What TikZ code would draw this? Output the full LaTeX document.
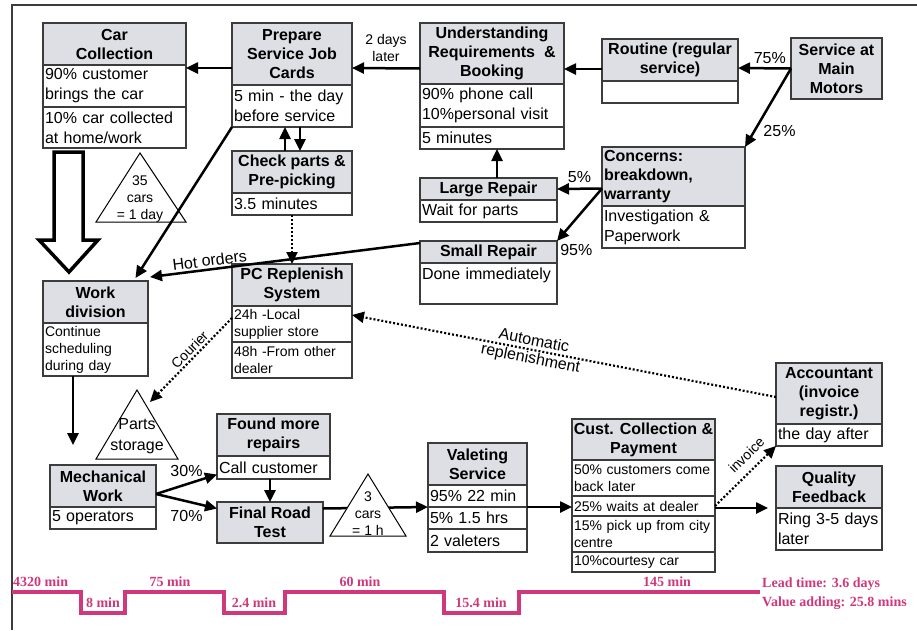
\documentclass[tikz,border=0pt]{standalone}
\usepackage{fontspec}
\setmainfont{Liberation Sans}
\newfontfamily\tlfont{Liberation Serif}
\usetikzlibrary{arrows.meta}
\definecolor{hdrgray}{RGB}{221,223,228}
\definecolor{boxline}{RGB}{60,60,60}
\definecolor{tlpink}{RGB}{208,56,124}
\tikzset{
  hdr/.style={draw=boxline, line width=1.2pt, fill=hdrgray, anchor=north west, inner sep=0pt, outer sep=0pt, align=center, font=\bfseries\fontsize{16}{19}\selectfont},
  row/.style={draw=boxline, line width=1.2pt, fill=white, anchor=north west, text width=#1, inner xsep=2pt, inner ysep=0pt, outer sep=0pt, align=left, font=\fontsize{16}{20}\selectfont},
  rowsm/.style={row=#1, font=\fontsize{14}{17}\selectfont},
  flow/.style={line width=2.5pt, ->},
  info/.style={line width=2.2pt, dash pattern=on 2pt off 2pt, ->},
  push/.style={line width=3.5pt, fill=white, line join=miter},
  lbl/.style={font=\fontsize{16}{19}\selectfont, inner sep=2pt},
  lblsm/.style={font=\fontsize{14}{17}\selectfont, inner sep=2pt, align=center},
  inv/.style={draw=black, line width=1pt, fill=white},
  tl/.style={font=\tlfont\bfseries\fontsize{14}{16}\selectfont, text=tlpink, inner sep=0pt}
}
\begin{document}
\begin{tikzpicture}[x=1pt,y=1pt,>={Triangle[length=12pt,width=11pt]}]
  \useasboundingbox (0,0) rectangle (917,-630);
  \draw[boxline, line width=1.5pt] (12,-630) -- (12,-5) -- (917,-5);
  % boxes
  \node[hdr, minimum width=143pt, minimum height=42pt] (carhd) at (43,-23) {Car\\Collection};
  \node[row=139pt, minimum height=42pt] (car1) at (carhd.south west) {90\% customer\\brings the car};
  \node[row=139pt, minimum height=41pt] (car2) at (car1.south west) {10\% car collected\\at home/work};
  \node[hdr, minimum width=120pt, minimum height=62pt] (prephd) at (232,-23) {Prepare\\Service Job\\Cards};
  \node[row=116pt, minimum height=42pt] (prep1) at (prephd.south west) {5 min - the day\\before service};
  \node[hdr, minimum width=120pt, minimum height=42pt] (chkhd) at (232,-151) {Check parts \&\\Pre-picking};
  \node[row=116pt, minimum height=22pt] (chk1) at (chkhd.south west) {3.5 minutes};
  \node[hdr, minimum width=144pt, minimum height=61pt] (undhd) at (420,-23) {Understanding\\Requirements~ \&\\Booking};
  \node[row=140pt, minimum height=43pt] (und1) at (undhd.south west) {90\% phone call\\10\%personal visit};
  \node[row=140pt, minimum height=22pt] (und2) at (und1.south west) {5 minutes};
  \node[hdr, minimum width=136pt, minimum height=42pt] (rouhd) at (602,-39) {Routine (regular\\service)};
  \node[row=132pt, minimum height=22pt] (rou1) at (rouhd.south west) {};
  \node[hdr, minimum width=91pt, minimum height=61pt] (smm) at (791,-38) {Service at\\Main\\Motors};
  \node[hdr, align=left, text width=139pt, inner xsep=2pt, minimum height=59pt] (conhd) at (602,-147) {Concerns:\\breakdown,\\warranty};
  \node[row=139pt, minimum height=42pt] (con1) at (conhd.south west) {Investigation \&\\Paperwork};
  \node[hdr, minimum width=137pt, minimum height=22pt] (lrhd) at (420,-178) {Large Repair};
  \node[row=133pt, minimum height=22pt] (lr1) at (lrhd.south west) {Wait for parts};
  \node[hdr, minimum width=137pt, minimum height=22pt] (srhd) at (420,-241) {Small Repair};
  \node[row=133pt, minimum height=41pt] (sr1) at (srhd.south west) {Done immediately\\~};
  \node[hdr, minimum width=105pt, minimum height=42pt] (wdhd) at (43,-281) {Work\\division};
  \node[rowsm=101pt, minimum height=53pt] (wd1) at (wdhd.south west) {Continue\\scheduling\\during day};
  \node[hdr, minimum width=120pt, minimum height=42pt] (pchd) at (232,-264) {PC Replenish\\System};
  \node[rowsm=116pt, minimum height=36pt] (pc1) at (pchd.south west) {24h -Local\\supplier store};
  \node[rowsm=116pt, minimum height=36pt] (pc2) at (pc1.south west) {48h -From other\\dealer};
  \node[hdr, minimum width=113pt, minimum height=42pt] (fmhd) at (217,-414) {Found more\\repairs};
  \node[row=109pt, minimum height=23pt] (fm1) at (fmhd.south west) {Call customer};
  \node[hdr, minimum width=106pt, minimum height=42pt] (mwhd) at (50,-465) {Mechanical\\Work};
  \node[row=102pt, minimum height=22pt] (mw1) at (mwhd.south west) {5 operators};
  \node[hdr, minimum width=106pt, minimum height=41pt] (frt) at (217,-502) {Final Road\\Test};
  \node[hdr, minimum width=99pt, minimum height=42pt] (valhd) at (428,-443) {Valeting\\Service};
  \node[row=95pt, minimum height=22pt] (val1) at (valhd.south west) {95\% 22 min};
  \node[row=95pt, minimum height=22pt] (val2) at (val1.south west) {5\% 1.5 hrs};
  \node[row=95pt, minimum height=23pt] (val3) at (val2.south west) {2 valeters};
  \node[hdr, minimum width=143pt, minimum height=41pt] (cchd) at (572,-419) {Cust. Collection \&\\Payment};
  \node[rowsm=139pt, minimum height=36pt] (cc1) at (cchd.south west) {50\% customers come\\back later};
  \node[rowsm=139pt, minimum height=20pt] (cc2) at (cc1.south west) {25\% waits at dealer};
  \node[rowsm=139pt, minimum height=36pt] (cc3) at (cc2.south west) {15\% pick up from city\\centre};
  \node[rowsm=139pt, minimum height=20pt] (cc4) at (cc3.south west) {10\%courtesy car};
  \node[hdr, minimum width=106pt, minimum height=61pt] (acchd) at (776,-363) {Accountant\\(invoice\\registr.)};
  \node[row=102pt, minimum height=22pt] (acc1) at (acchd.south west) {the day after};
  \node[hdr, minimum width=106pt, minimum height=42pt] (qfhd) at (776,-466) {Quality\\Feedback};
  \node[row=102pt, minimum height=42pt] (qf1) at (qfhd.south west) {Ring 3-5 days\\later};
  % inventory before car collection push
  \draw[inv] (96,-222) -- (140,-153) -- (186,-222) -- cycle;
  \node[lblsm] (inv35) at (140,-199) {35\\cars\\= 1 day};
  \draw[push] ([xshift=-60.5pt,yshift=-4pt]car2.south) -- ++(0,-88) -- ++(-15,0) -- ++(30,-32) -- ++(29,32) -- ++(-15,0) -- ++(0,88) -- cycle;
  % flows
  \draw[flow] ([yshift=-14pt]prephd.west) -- ([yshift=-24pt]carhd.east);
  \draw[flow] ([yshift=-15pt]undhd.west) -- node[lblsm, above=3pt] (lbl2d) {2 days\\later} ([yshift=-14pt]prephd.east);
  \draw[flow] ([yshift=-9pt]rouhd.west) -- ([yshift=-15.5pt]undhd.east);
  \draw[flow] (smm.west) -- node[lbl, pos=0.4, above=1pt] (lbl75) {75\%} ([yshift=-8pt]rouhd.east);
  \draw[flow] (smm.west) -- node[lbl, pos=0.8, right=6pt] (lbl25) {25\%} (conhd.north east);
  \draw[flow] ([yshift=-12pt]conhd.west) -- node[lbl, above=3pt] (lbl5) {5\%} (lrhd.east);
  \draw[flow] ([yshift=-12pt]conhd.west) -- (srhd.north east) node[lbl, below right=0pt] (lbl95) {95\%};
  \draw[flow] ([xshift=8.5pt]lrhd.north) -- ([xshift=5pt]und2.south);
  \draw[flow] ([yshift=9pt]srhd.west) -- node[lbl, pos=0.775, sloped, above] (lblhot) {Hot orders} ([xshift=2pt,yshift=4pt]wdhd.north east);
  \draw[flow] (prep1.south west) -- ([xshift=40pt,yshift=3pt]wdhd.north);
  \draw[flow] ([xshift=-7pt]chkhd.north) -- ([xshift=-7pt]prep1.south);
  \draw[flow] ([xshift=8pt]prep1.south) -- ([xshift=8pt]chkhd.north);
  \draw[info] (chk1.south) -- (pchd.north);
  \coordinate (pstop) at (150,-402);
  \draw[info] ([yshift=6pt]pc1.west) -- node[lblsm, pos=0.445, sloped, above] (lblcour) {Courier} (pstop);
  \draw[info] ([yshift=-3.5pt]acchd.west) -- node[lbl, pos=0.575, sloped, above=1pt] (lblauto) {Automatic} node[lbl, pos=0.575, sloped, below=0pt, inner sep=1pt] (lblrepl) {replenishment} ([yshift=9pt]pc1.east);
  \draw[flow] ([xshift=-22.5pt]wd1.south) -- ([xshift=-30pt,yshift=20pt]mwhd.north);
  \draw[flow] ([yshift=-8pt]mwhd.east) -- node[lbl, above=4pt] (lbl30) {30\%} ([yshift=-7pt]fm1.west);
  \draw[flow] ([yshift=-8pt]mwhd.east) -- node[lbl, below=6pt] (lbl70) {70\%} ([yshift=14pt]frt.west);
  \draw[flow] (fm1.south -| frt.north) -- (frt.north);
  \draw[flow] ([yshift=14pt]frt.east) -- (val1.south west);
  \draw[flow] (val1.south east) -- (val1.south east -| cc2.west);
  \draw[flow] ([yshift=-2pt]cc2.east) -- ([xshift=-8pt]qfhd.south west);
  \draw[info] (cc2.east) -- node[lblsm, pos=0.68, sloped, above=6pt] (lblinv) {invoice} (acc1.south west);
  % inventories on the shop floor
  \draw[inv] (96,-459) -- (137,-390) -- (178,-459) -- cycle;
  \node[lbl, align=center, font=\fontsize{16}{21}\selectfont] (store) at (137,-436) {Parts\\storage};
  \draw[inv] (330,-536) -- (368,-474) -- (406,-536) -- cycle;
  \node[lblsm] (inv3) at (368,-514) {3\\cars\\= 1 h};
  % timeline
  \draw[tlpink, line width=3.5pt] (12,-592) -- (81,-592) -- (81,-613) -- (125,-613) -- (125,-592) -- (224,-592) -- (224,-613) -- (285,-613) -- (285,-592) -- (444,-592) -- (444,-613) -- (519,-613) -- (519,-592) -- (760,-592);
  \node[tl, anchor=west] (t1) at (13,-582) {4320 min};
  \node[tl] (t2) at (103,-603) {8 min};
  \node[tl] (t3) at (170,-582) {75 min};
  \node[tl] (t4) at (254,-603) {2.4 min};
  \node[tl] (t5) at (360,-582) {60 min};
  \node[tl] (t6) at (481,-603) {15.4 min};
  \node[tl] (t7) at (667,-582) {145 min};
  \node[tl, anchor=west] (lead) at (762,-584) {Lead time: 3.6 days};
  \node[tl, anchor=west] (vadd) at (762,-603) {Value adding: 25.8 mins};
\end{tikzpicture}
\end{document}
